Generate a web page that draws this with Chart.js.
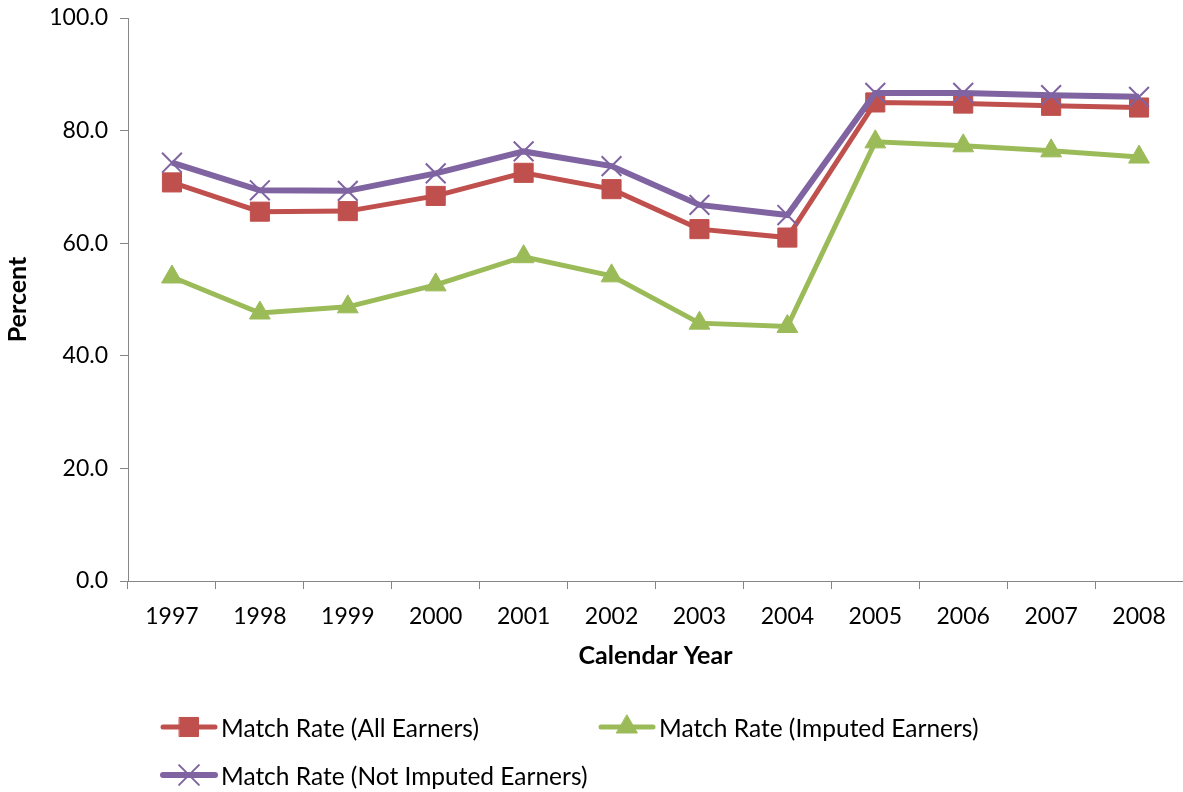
<!DOCTYPE html>
<html>
<head>
<meta charset="utf-8">
<script src="https://cdn.jsdelivr.net/npm/chart.js@4/dist/chart.umd.min.js"></script>
<style>
  html, body { margin: 0; background: #fff; font-family: Lato, sans-serif; overflow: hidden; }
  #wrap { position: relative; width: 1183px; height: 792px; }
  #matchChart { display: block; }
  #legend { position: absolute; left: 160px; top: 712px; }
  .item { position: absolute; display: flex; align-items: center; white-space: nowrap; font-size: 24.5px; color: #000; }
  .item canvas { margin-right: 3px; }
</style>
</head>
<body>
<div id="wrap">
  <canvas id="matchChart" width="1183" height="792"></canvas>
  <div id="legend"></div>
</div>
<script>
// --- données ---
const years = ['1997', '1998', '1999', '2000', '2001', '2002', '2003', '2004', '2005', '2006', '2007', '2008'];
const allEarners      = [70.8, 65.6, 65.7, 68.4, 72.5, 69.6, 62.5, 61.0, 85.0, 84.8, 84.4, 84.1];
const imputedEarners  = [54.0, 47.6, 48.7, 52.6, 57.6, 54.2, 45.8, 45.2, 78.0, 77.3, 76.4, 75.3];
const notImputed      = [74.3, 69.4, 69.3, 72.4, 76.3, 73.7, 66.8, 65.0, 86.7, 86.7, 86.3, 86.0];
const yTicks = [0, 20, 40, 60, 80, 100];

const axisColor = '#868686';
const tickFont = { family: 'Lato', size: 23 };
const titleFont = { family: 'Lato', size: 25, weight: 'bold', lineHeight: 1.2 };

const series = [
    { label: 'Match Rate (All Earners)', data: allEarners, color: '#C0504D', style: 'rect', radius: 13.5, width: 5, pointBorder: 1, order: 2 },
    { label: 'Match Rate (Imputed Earners)', data: imputedEarners, color: '#9BBB59', style: 'triangle', radius: 12, width: 5, pointBorder: 1, order: 1 },
    { label: 'Match Rate (Not Imputed Earners)', data: notImputed, color: '#8064A2', style: 'crossRot', radius: 14, width: 6, pointBorder: 2, order: 0 }
];

const datasets = series.map(s => ({
    label: s.label,
    data: s.data,
    borderColor: s.color,
    backgroundColor: s.color,
    borderWidth: s.width,
    pointStyle: s.style,
    pointRadius: s.radius,
    pointHoverRadius: s.radius,
    pointBorderWidth: s.pointBorder,
    pointBorderColor: s.color,
    pointBackgroundColor: s.color,
    tension: 0,
    clip: false,
    order: s.order
}));

new Chart(document.getElementById('matchChart'), {
    type: 'line',
    data: { labels: years, datasets: datasets },
    options: {
        responsive: false,
        animation: false,
        layout: { autoPadding: false, padding: { top: 18, right: 0, bottom: 121, left: 0 } },
        plugins: { legend: { display: false }, tooltip: { enabled: false } },
        scales: {
            x: {
                offset: true,
                grid: { offset: true, drawOnChartArea: false, tickLength: 8, color: axisColor },
                border: { color: axisColor, width: 1 },
                ticks: { font: tickFont, color: '#000', padding: 14, maxRotation: 0, autoSkip: false },
                title: { display: true, text: 'Calendar Year', font: titleFont, color: '#000', padding: 0 },
                afterFit: s => { s.height = 90; s.paddingLeft = 0; s.paddingRight = 0; }
            },
            y: {
                min: 0,
                max: 100,
                afterBuildTicks: s => { s.ticks = yTicks.map(v => ({ value: v })); },
                grid: { drawOnChartArea: false, tickLength: 8, color: axisColor },
                border: { color: axisColor, width: 1 },
                ticks: { font: tickFont, color: '#000', padding: 12, callback: v => Number(v).toFixed(1) },
                title: { display: true, text: 'Percent', font: titleFont, color: '#000', padding: { top: 3 } },
                afterFit: s => { s.width = 128; s.paddingTop = 0; s.paddingBottom = 0; }
            }
        }
    }
});

// --- légende HTML (deux colonnes, comme dans l'original) ---
const legendBox = document.getElementById('legend');
const slots = [[0, 0], [438, 0], [0, 48]];
series.forEach((s, i) => {
    const item = document.createElement('div');
    item.className = 'item';
    item.style.left = slots[i][0] + 'px';
    item.style.top = slots[i][1] + 'px';
    const c = document.createElement('canvas');
    c.width = 58; c.height = 30;
    const ctx = c.getContext('2d');
    ctx.strokeStyle = s.color;
    ctx.fillStyle = s.color;
    ctx.lineWidth = s.width;
    ctx.lineCap = 'round';
    ctx.beginPath();
    ctx.moveTo(3, 15);
    ctx.lineTo(55, 15);
    ctx.stroke();
    ctx.lineWidth = s.pointBorder;
    Chart.helpers.drawPoint(ctx, { pointStyle: s.style, rotation: 0, radius: s.radius, borderWidth: s.pointBorder }, 29, 15);
    item.appendChild(c);
    const span = document.createElement('span');
    span.textContent = s.label;
    item.appendChild(span);
    legendBox.appendChild(item);
});
</script>
</body>
</html>
